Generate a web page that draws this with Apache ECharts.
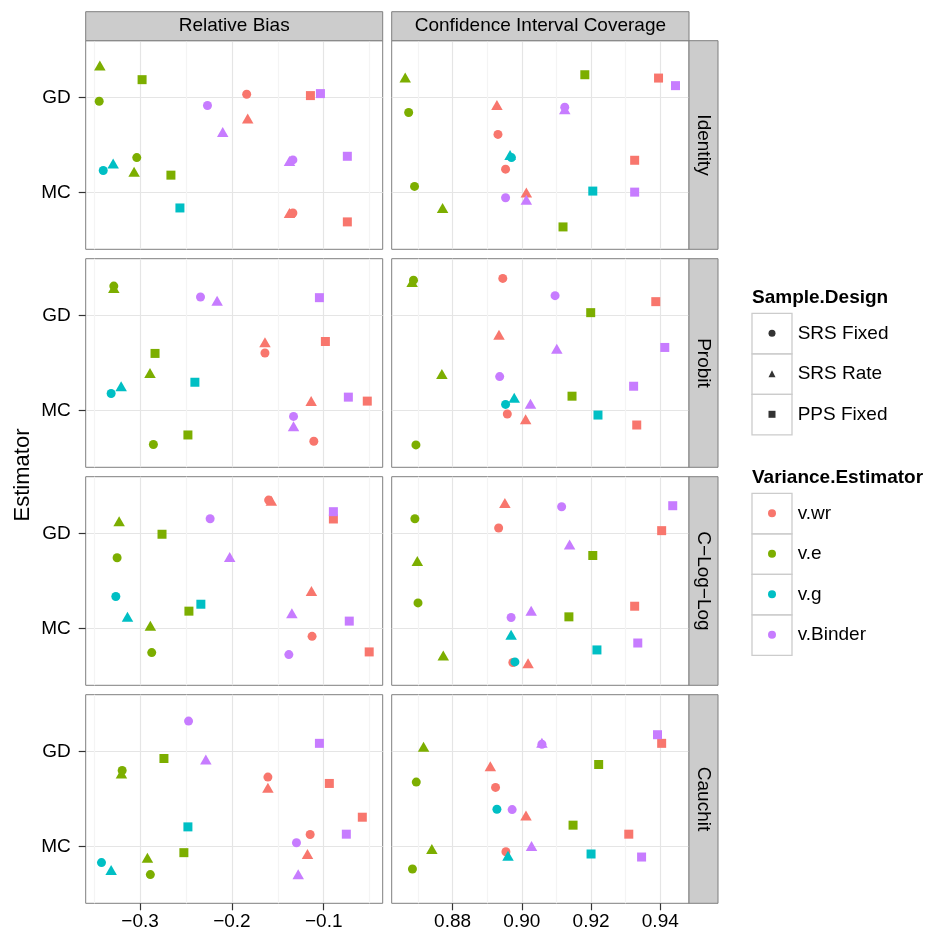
<!DOCTYPE html>
<html>
<head>
<meta charset="utf-8">
<title>Estimator comparison</title>
<script src="https://cdn.jsdelivr.net/npm/echarts@6/dist/echarts.min.js"></script>
<style>
  html, body { margin: 0; padding: 0; background: #ffffff; }
  #chart { width: 935px; height: 938px; }
</style>
</head>
<body>
<div id="chart"></div>
<script>
// Facets, categories and scales
const metrics = ['Relative Bias', 'Confidence Interval Coverage'];
const linkFunctions = ['Identity', 'Probit', 'C\u2212Log\u2212Log', 'Cauchit'];
const estimators = ['MC', 'GD'];            // positions 1 and 2 on the vertical axis
const designs = ['SRS Fixed', 'SRS Rate', 'PPS Fixed'];
const varianceEstimators = ['v.wr', 'v.e', 'v.g', 'v.Binder'];
const biasTicks = [-0.3, -0.2, -0.1];
const biasMinorTicks = [-0.35, -0.25, -0.15, -0.05];
const coverageTicks = [0.88, 0.90, 0.92, 0.94];
const coverageMinorTicks = [0.87, 0.89, 0.91, 0.93];
const biasLimits = [-0.3592, -0.0358];
const coverageLimits = [0.8624, 0.9483];

// Each row: [estimator, sample design, variance estimator, value, vertical jitter]
const identityBias = [
  ['GD', 'SRS Rate', 'v.e', -0.3438, 0.339],
  ['GD', 'PPS Fixed', 'v.e', -0.2978, 0.189],
  ['GD', 'SRS Fixed', 'v.e', -0.3445, -0.038],
  ['GD', 'SRS Fixed', 'v.wr', -0.1839, 0.035],
  ['GD', 'PPS Fixed', 'v.wr', -0.1145, 0.021],
  ['GD', 'PPS Fixed', 'v.Binder', -0.1036, 0.042],
  ['GD', 'SRS Fixed', 'v.Binder', -0.2266, -0.084],
  ['GD', 'SRS Rate', 'v.wr', -0.1828, -0.220],
  ['GD', 'SRS Rate', 'v.Binder', -0.2100, -0.364],
  ['MC', 'SRS Rate', 'v.g', -0.3293, 0.304],
  ['MC', 'SRS Fixed', 'v.g', -0.3401, 0.231],
  ['MC', 'SRS Fixed', 'v.e', -0.3036, 0.367],
  ['MC', 'SRS Rate', 'v.e', -0.3065, 0.217],
  ['MC', 'PPS Fixed', 'v.e', -0.2664, 0.182],
  ['MC', 'SRS Rate', 'v.Binder', -0.1373, 0.332],
  ['MC', 'SRS Fixed', 'v.Binder', -0.1336, 0.343],
  ['MC', 'PPS Fixed', 'v.Binder', -0.0743, 0.381],
  ['MC', 'PPS Fixed', 'v.g', -0.2566, -0.164],
  ['MC', 'SRS Rate', 'v.wr', -0.1373, -0.217],
  ['MC', 'SRS Fixed', 'v.wr', -0.1336, -0.217],
  ['MC', 'PPS Fixed', 'v.wr', -0.0743, -0.311]
];
const identityCoverage = [
  ['GD', 'SRS Rate', 'v.e', 0.8663, 0.213],
  ['GD', 'PPS Fixed', 'v.e', 0.9182, 0.241],
  ['GD', 'PPS Fixed', 'v.wr', 0.9395, 0.206],
  ['GD', 'PPS Fixed', 'v.Binder', 0.9444, 0.126],
  ['GD', 'SRS Rate', 'v.wr', 0.8928, -0.077],
  ['GD', 'SRS Rate', 'v.Binder', 0.9124, -0.122],
  ['GD', 'SRS Fixed', 'v.Binder', 0.9124, -0.101],
  ['GD', 'SRS Fixed', 'v.e', 0.8673, -0.157],
  ['GD', 'SRS Fixed', 'v.wr', 0.8931, -0.388],
  ['MC', 'SRS Rate', 'v.g', 0.8966, 0.395],
  ['MC', 'SRS Fixed', 'v.g', 0.8970, 0.367],
  ['MC', 'SRS Fixed', 'v.wr', 0.8953, 0.245],
  ['MC', 'PPS Fixed', 'v.wr', 0.9326, 0.339],
  ['MC', 'SRS Fixed', 'v.e', 0.8690, 0.063],
  ['MC', 'SRS Rate', 'v.wr', 0.9013, 0.000],
  ['MC', 'SRS Rate', 'v.Binder', 0.9013, -0.077],
  ['MC', 'SRS Fixed', 'v.Binder', 0.8953, -0.056],
  ['MC', 'PPS Fixed', 'v.g', 0.9205, 0.014],
  ['MC', 'PPS Fixed', 'v.Binder', 0.9326, 0.003],
  ['MC', 'SRS Rate', 'v.e', 0.8771, -0.164],
  ['MC', 'PPS Fixed', 'v.e', 0.9119, -0.364]
];
const probitBias = [
  ['GD', 'SRS Rate', 'v.e', -0.3286, 0.290],
  ['GD', 'SRS Fixed', 'v.e', -0.3286, 0.311],
  ['GD', 'SRS Fixed', 'v.Binder', -0.2342, 0.196],
  ['GD', 'SRS Rate', 'v.Binder', -0.2161, 0.157],
  ['GD', 'PPS Fixed', 'v.Binder', -0.1047, 0.189],
  ['GD', 'SRS Rate', 'v.wr', -0.1640, -0.280],
  ['GD', 'SRS Fixed', 'v.wr', -0.1640, -0.395],
  ['GD', 'PPS Fixed', 'v.wr', -0.0982, -0.273],
  ['GD', 'PPS Fixed', 'v.e', -0.2837, -0.399],
  ['MC', 'SRS Rate', 'v.e', -0.2892, 0.395],
  ['MC', 'SRS Rate', 'v.g', -0.3206, 0.255],
  ['MC', 'SRS Fixed', 'v.g', -0.3315, 0.178],
  ['MC', 'PPS Fixed', 'v.g', -0.2403, 0.297],
  ['MC', 'SRS Rate', 'v.wr', -0.1137, 0.098],
  ['MC', 'PPS Fixed', 'v.Binder', -0.0732, 0.140],
  ['MC', 'PPS Fixed', 'v.wr', -0.0526, 0.098],
  ['MC', 'SRS Fixed', 'v.Binder', -0.1329, -0.063],
  ['MC', 'SRS Rate', 'v.Binder', -0.1329, -0.168],
  ['MC', 'SRS Fixed', 'v.wr', -0.1108, -0.325],
  ['MC', 'PPS Fixed', 'v.e', -0.2479, -0.259],
  ['MC', 'SRS Fixed', 'v.e', -0.2855, -0.360]
];
const probitCoverage = [
  ['GD', 'SRS Rate', 'v.e', 0.8683, 0.353],
  ['GD', 'SRS Fixed', 'v.e', 0.8687, 0.374],
  ['GD', 'SRS Fixed', 'v.wr', 0.8945, 0.392],
  ['GD', 'SRS Fixed', 'v.Binder', 0.9096, 0.210],
  ['GD', 'PPS Fixed', 'v.wr', 0.9387, 0.147],
  ['GD', 'PPS Fixed', 'v.e', 0.9199, 0.031],
  ['GD', 'SRS Rate', 'v.wr', 0.8934, -0.203],
  ['GD', 'SRS Rate', 'v.Binder', 0.9101, -0.350],
  ['GD', 'PPS Fixed', 'v.Binder', 0.9413, -0.336],
  ['MC', 'SRS Rate', 'v.e', 0.8769, 0.385],
  ['MC', 'SRS Fixed', 'v.Binder', 0.8936, 0.357],
  ['MC', 'PPS Fixed', 'v.Binder', 0.9323, 0.255],
  ['MC', 'PPS Fixed', 'v.e', 0.9145, 0.150],
  ['MC', 'SRS Rate', 'v.g', 0.8978, 0.133],
  ['MC', 'SRS Fixed', 'v.g', 0.8953, 0.063],
  ['MC', 'SRS Rate', 'v.Binder', 0.9025, 0.070],
  ['MC', 'SRS Fixed', 'v.wr', 0.8958, -0.038],
  ['MC', 'SRS Rate', 'v.wr', 0.9011, -0.094],
  ['MC', 'PPS Fixed', 'v.g', 0.9220, -0.049],
  ['MC', 'PPS Fixed', 'v.wr', 0.9332, -0.154],
  ['MC', 'SRS Fixed', 'v.e', 0.8694, -0.364]
];
const cloglogBias = [
  ['GD', 'SRS Rate', 'v.wr', -0.1571, 0.346],
  ['GD', 'SRS Fixed', 'v.wr', -0.1600, 0.353],
  ['GD', 'PPS Fixed', 'v.Binder', -0.0895, 0.231],
  ['GD', 'PPS Fixed', 'v.wr', -0.0895, 0.154],
  ['GD', 'SRS Rate', 'v.e', -0.3228, 0.129],
  ['GD', 'SRS Fixed', 'v.Binder', -0.2237, 0.157],
  ['GD', 'PPS Fixed', 'v.e', -0.2761, -0.007],
  ['GD', 'SRS Fixed', 'v.e', -0.3250, -0.255],
  ['GD', 'SRS Rate', 'v.Binder', -0.2024, -0.248],
  ['MC', 'SRS Fixed', 'v.g', -0.3264, 0.336],
  ['MC', 'SRS Rate', 'v.wr', -0.1134, 0.395],
  ['MC', 'PPS Fixed', 'v.g', -0.2338, 0.255],
  ['MC', 'PPS Fixed', 'v.e', -0.2468, 0.182],
  ['MC', 'SRS Rate', 'v.Binder', -0.1347, 0.161],
  ['MC', 'PPS Fixed', 'v.Binder', -0.0722, 0.077],
  ['MC', 'SRS Rate', 'v.g', -0.3137, 0.122],
  ['MC', 'SRS Rate', 'v.e', -0.2888, 0.028],
  ['MC', 'SRS Fixed', 'v.wr', -0.1127, -0.084],
  ['MC', 'SRS Fixed', 'v.e', -0.2873, -0.255],
  ['MC', 'SRS Fixed', 'v.Binder', -0.1380, -0.276],
  ['MC', 'PPS Fixed', 'v.wr', -0.0505, -0.248]
];
const cloglogCoverage = [
  ['GD', 'SRS Rate', 'v.wr', 0.8951, 0.322],
  ['GD', 'SRS Fixed', 'v.Binder', 0.9115, 0.283],
  ['GD', 'PPS Fixed', 'v.Binder', 0.9436, 0.294],
  ['GD', 'SRS Fixed', 'v.e', 0.8691, 0.157],
  ['GD', 'SRS Fixed', 'v.wr', 0.8933, 0.059],
  ['GD', 'PPS Fixed', 'v.wr', 0.9404, 0.031],
  ['GD', 'SRS Rate', 'v.Binder', 0.9138, -0.115],
  ['GD', 'PPS Fixed', 'v.e', 0.9205, -0.231],
  ['GD', 'SRS Rate', 'v.e', 0.8698, -0.290],
  ['MC', 'SRS Fixed', 'v.e', 0.8700, 0.269],
  ['MC', 'PPS Fixed', 'v.wr', 0.9326, 0.234],
  ['MC', 'SRS Rate', 'v.Binder', 0.9027, 0.185],
  ['MC', 'SRS Fixed', 'v.Binder', 0.8969, 0.115],
  ['MC', 'PPS Fixed', 'v.e', 0.9136, 0.122],
  ['MC', 'SRS Rate', 'v.g', 0.8969, -0.066],
  ['MC', 'PPS Fixed', 'v.Binder', 0.9335, -0.154],
  ['MC', 'PPS Fixed', 'v.g', 0.9217, -0.227],
  ['MC', 'SRS Rate', 'v.e', 0.8773, -0.287],
  ['MC', 'SRS Fixed', 'v.wr', 0.8974, -0.360],
  ['MC', 'SRS Fixed', 'v.g', 0.8980, -0.353],
  ['MC', 'SRS Rate', 'v.wr', 0.9018, -0.367]
];
const cauchitBias = [
  ['GD', 'SRS Fixed', 'v.Binder', -0.2472, 0.322],
  ['GD', 'PPS Fixed', 'v.Binder', -0.1047, 0.087],
  ['GD', 'PPS Fixed', 'v.e', -0.2740, -0.073],
  ['GD', 'SRS Rate', 'v.Binder', -0.2284, -0.084],
  ['GD', 'SRS Rate', 'v.e', -0.3203, -0.231],
  ['GD', 'SRS Fixed', 'v.e', -0.3195, -0.199],
  ['GD', 'SRS Fixed', 'v.wr', -0.1608, -0.269],
  ['GD', 'SRS Rate', 'v.wr', -0.1608, -0.381],
  ['GD', 'PPS Fixed', 'v.wr', -0.0939, -0.336],
  ['MC', 'PPS Fixed', 'v.g', -0.2479, 0.206],
  ['MC', 'PPS Fixed', 'v.wr', -0.0580, 0.308],
  ['MC', 'PPS Fixed', 'v.Binder', -0.0754, 0.129],
  ['MC', 'SRS Fixed', 'v.wr', -0.1148, 0.126],
  ['MC', 'SRS Fixed', 'v.Binder', -0.1297, 0.038],
  ['MC', 'PPS Fixed', 'v.e', -0.2523, -0.066],
  ['MC', 'SRS Rate', 'v.wr', -0.1177, -0.080],
  ['MC', 'SRS Rate', 'v.e', -0.2920, -0.119],
  ['MC', 'SRS Fixed', 'v.g', -0.3420, -0.171],
  ['MC', 'SRS Rate', 'v.g', -0.3315, -0.248],
  ['MC', 'SRS Fixed', 'v.e', -0.2888, -0.297],
  ['MC', 'SRS Rate', 'v.Binder', -0.1278, -0.294]
];
const cauchitCoverage = [
  ['GD', 'SRS Rate', 'v.e', 0.8716, 0.052],
  ['GD', 'SRS Rate', 'v.Binder', 0.9058, 0.094],
  ['GD', 'SRS Fixed', 'v.Binder', 0.9058, 0.077],
  ['GD', 'PPS Fixed', 'v.Binder', 0.9392, 0.178],
  ['GD', 'PPS Fixed', 'v.wr', 0.9404, 0.087],
  ['GD', 'PPS Fixed', 'v.e', 0.9222, -0.136],
  ['GD', 'SRS Rate', 'v.wr', 0.8909, -0.154],
  ['GD', 'SRS Fixed', 'v.e', 0.8695, -0.322],
  ['GD', 'SRS Fixed', 'v.wr', 0.8924, -0.378],
  ['MC', 'SRS Fixed', 'v.g', 0.8928, 0.392],
  ['MC', 'SRS Fixed', 'v.Binder', 0.8972, 0.388],
  ['MC', 'SRS Rate', 'v.wr', 0.9012, 0.325],
  ['MC', 'PPS Fixed', 'v.e', 0.9148, 0.224],
  ['MC', 'PPS Fixed', 'v.wr', 0.9309, 0.129],
  ['MC', 'SRS Rate', 'v.e', 0.8740, -0.028],
  ['MC', 'SRS Rate', 'v.Binder', 0.9028, 0.003],
  ['MC', 'SRS Fixed', 'v.wr', 0.8954, -0.056],
  ['MC', 'SRS Rate', 'v.g', 0.8960, -0.098],
  ['MC', 'PPS Fixed', 'v.g', 0.9200, -0.080],
  ['MC', 'PPS Fixed', 'v.Binder', 0.9346, -0.112],
  ['MC', 'SRS Fixed', 'v.e', 0.8684, -0.238]
];

// rows follow linkFunctions, columns follow metrics
const panelData = [
  [identityBias, identityCoverage],
  [probitBias, probitCoverage],
  [cloglogBias, cloglogCoverage],
  [cauchitBias, cauchitCoverage]
];

// Styling
const FONT = '"Liberation Sans", Arial, Helvetica, sans-serif';
const hueColors = { 'v.wr': '#F8766D', 'v.e': '#7CAE00', 'v.g': '#00BFC4', 'v.Binder': '#C77CFF' };
const designSymbols = { 'SRS Fixed': 'circle', 'SRS Rate': 'triangle', 'PPS Fixed': 'rect' };
const designSizes = { 'SRS Fixed': 9, 'SRS Rate': [11.5, 10], 'PPS Fixed': 9 };
const colLeft = [85.7, 391.7];
const colWidth = [297, 297.3];
const rowTop = [40.7, 258.7, 476.7, 694.7];
const panelHeight = 208.6;
const stripSize = 29;
const borderGrey = '#7F7F7F';
const stripFill = '#CCCCCC';

const formatBias = v => v.toFixed(1).replace('-', '\u2212');
const formatCoverage = v => v.toFixed(2);

const grids = [], xAxes = [], yAxes = [], series = [], graphics = [];

linkFunctions.forEach((link, r) => {
  metrics.forEach((metric, c) => {
    const idx = r * metrics.length + c;
    const onBottom = r === linkFunctions.length - 1;
    const onLeft = c === 0;
    const ticks = c === 0 ? biasTicks : coverageTicks;
    const minor = c === 0 ? biasMinorTicks : coverageMinorTicks;
    const limits = c === 0 ? biasLimits : coverageLimits;

    grids.push({
      left: colLeft[c], top: rowTop[r], width: colWidth[c], height: panelHeight,
      show: true, backgroundColor: '#FFFFFF', borderColor: borderGrey, borderWidth: 1,
      containLabel: false
    });

    xAxes.push({
      type: 'value', gridIndex: idx, min: limits[0], max: limits[1],
      axisLine: { show: false },
      axisTick: { show: onBottom, customValues: ticks, length: 7, lineStyle: { color: '#333333', width: 1.2 } },
      axisLabel: {
        show: onBottom, customValues: ticks, margin: 9,
        formatter: c === 0 ? formatBias : formatCoverage,
        fontSize: 19, color: '#000000', fontFamily: FONT
      },
      splitLine: { show: true, lineStyle: { color: '#E5E5E5', width: 1.2 } }
    });

    yAxes.push({
      type: 'value', gridIndex: idx, min: 0.4, max: 2.6,
      axisLine: { show: false },
      axisTick: { show: onLeft, customValues: [1, 2], length: 7, lineStyle: { color: '#333333', width: 1.2 } },
      axisLabel: {
        show: onLeft, customValues: [1, 2], margin: 15,
        formatter: v => estimators[Math.round(v) - 1],
        fontSize: 19, color: '#000000', fontFamily: FONT
      },
      splitLine: { show: true, lineStyle: { color: '#E5E5E5', width: 1.2 } }
    });

    // faint minor grid lines between the major ones, kept under the points
    series.push({
      type: 'scatter', name: 'minor-grid', xAxisIndex: idx, yAxisIndex: idx,
      data: [], silent: true, z: 1,
      markLine: {
        silent: true, z: 1, symbol: ['none', 'none'], animation: false,
        label: { show: false },
        lineStyle: { color: '#F4F4F4', width: 1.2, type: 'solid' },
        emphasis: { disabled: true },
        data: minor.map(v => ({ xAxis: v }))
      }
    });

    const rows = panelData[r][c];
    varianceEstimators.forEach(ve => {
      series.push({
        type: 'scatter', name: ve, xAxisIndex: idx, yAxisIndex: idx, z: 3,
        itemStyle: { color: hueColors[ve], opacity: 1 },
        emphasis: { disabled: true },
        data: rows.filter(p => p[2] === ve).map(p => ({
          value: [p[3], estimators.indexOf(p[0]) + 1 + p[4]],
          symbol: designSymbols[p[1]],
          symbolSize: designSizes[p[1]]
        }))
      });
    });

    // facet strips
    if (r === 0) {
      graphics.push({
        type: 'rect', z: 10,
        shape: { x: colLeft[c], y: rowTop[0] - stripSize, width: colWidth[c], height: stripSize },
        style: { fill: stripFill, stroke: borderGrey, lineWidth: 1 }
      });
      graphics.push({
        type: 'text', z: 11, x: colLeft[c] + colWidth[c] / 2, y: rowTop[0] - stripSize / 2,
        style: { text: metric, fontSize: 19, fontFamily: FONT, fill: '#000000', align: 'center', verticalAlign: 'middle' }
      });
    }
    if (c === metrics.length - 1) {
      const sx = colLeft[c] + colWidth[c];
      graphics.push({
        type: 'rect', z: 10,
        shape: { x: sx, y: rowTop[r], width: stripSize, height: panelHeight },
        style: { fill: stripFill, stroke: borderGrey, lineWidth: 1 }
      });
      graphics.push({
        type: 'text', z: 11, x: sx + stripSize / 2, y: rowTop[r] + panelHeight / 2, rotation: -Math.PI / 2,
        style: { text: link, fontSize: 19, fontFamily: FONT, fill: '#000000', align: 'center', verticalAlign: 'middle' }
      });
    }
  });
});

// empty series that carry the shape legend
designs.forEach(d => {
  series.push({
    type: 'scatter', name: d, xAxisIndex: 0, yAxisIndex: 0, data: [],
    symbol: designSymbols[d], itemStyle: { color: '#000000' }
  });
});

// legend key boxes (outline only) and legend titles
const keyLeft = 752, keyWidth = 40, keyHeight = 40.5;
const designTop = 313.3, varianceTop = 493.3;
designs.forEach((d, i) => graphics.push({
  type: 'rect', z: 0,
  shape: { x: keyLeft, y: designTop + i * keyHeight, width: keyWidth, height: keyHeight },
  style: { fill: 'none', stroke: '#CCCCCC', lineWidth: 1.3 }
}));
varianceEstimators.forEach((v, i) => graphics.push({
  type: 'rect', z: 0,
  shape: { x: keyLeft, y: varianceTop + i * keyHeight, width: keyWidth, height: keyHeight },
  style: { fill: 'none', stroke: '#CCCCCC', lineWidth: 1.3 }
}));
graphics.push({
  type: 'text', z: 11, x: keyLeft, y: designTop - 16,
  style: { text: 'Sample.Design', fontSize: 19, fontWeight: 'bold', fontFamily: FONT, fill: '#000000', align: 'left', verticalAlign: 'middle' }
});
graphics.push({
  type: 'text', z: 11, x: keyLeft, y: varianceTop - 16,
  style: { text: 'Variance.Estimator', fontSize: 19, fontWeight: 'bold', fontFamily: FONT, fill: '#000000', align: 'left', verticalAlign: 'middle' }
});
// vertical axis title
graphics.push({
  type: 'text', z: 11, x: 23, y: 475, rotation: Math.PI / 2,
  style: { text: 'Estimator', fontSize: 22, fontFamily: FONT, fill: '#000000', align: 'center', verticalAlign: 'middle' }
});

// legend icons sit in the middle of each key box; text is pushed past the box
function legendFor(names, icons, top, size) {
  return {
    orient: 'vertical', left: keyLeft + keyWidth / 2 - size / 2, top: top, padding: 0,
    itemWidth: size, itemHeight: size, itemGap: 0.5,
    selectedMode: false, z: 20,
    textStyle: {
      fontSize: 19, lineHeight: 40, color: '#000000', fontFamily: FONT,
      padding: [0, 0, 0, (keyLeft + keyWidth + 5.7) - (keyLeft + keyWidth / 2 + size / 2 + 5)]
    },
    data: names.map((n, i) => ({ name: n, icon: icons[i] }))
  };
}

const option = {
  animation: false,
  backgroundColor: '#FFFFFF',
  grid: grids,
  xAxis: xAxes,
  yAxis: yAxes,
  series: series,
  legend: [
    legendFor(designs, designs.map(d => designSymbols[d]), designTop, 7),
    legendFor(varianceEstimators, varianceEstimators.map(() => 'circle'), varianceTop, 8)
  ],
  graphic: graphics
};

const chart = echarts.init(document.getElementById('chart'), null, { renderer: 'canvas' });
chart.setOption(option);
</script>
</body>
</html>
